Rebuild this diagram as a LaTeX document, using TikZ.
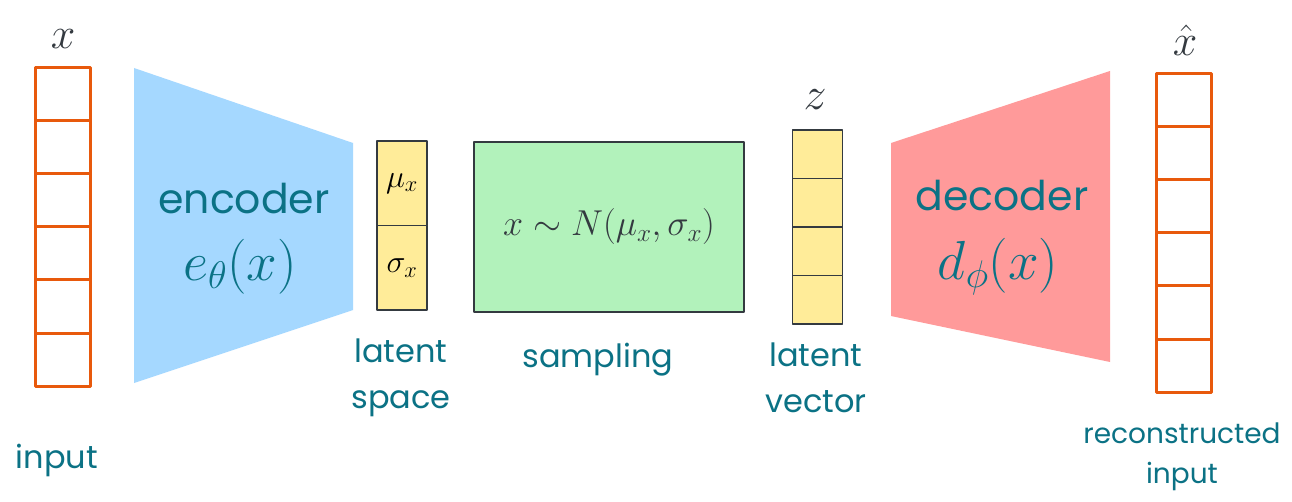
\documentclass[tikz,border=0pt]{standalone}
\usepackage{fix-cm}
\usepackage[no-math]{fontspec}
\setmainfont{Poppins}
\definecolor{vaeorange}{HTML}{E8590C}
\definecolor{vaeteal}{HTML}{0B7285}
\definecolor{vaeink}{HTML}{343A40}
\definecolor{vaeblue}{HTML}{A5D8FF}
\definecolor{vaered}{HTML}{FF9A9A}
\definecolor{vaegreen}{HTML}{B2F2BB}
\definecolor{vaeyellow}{HTML}{FFEC99}
\begin{document}
\begin{tikzpicture}[x=1pt, y=-1pt, line join=round,
    iocell/.style={draw=vaeorange, line width=3pt, minimum width=55pt, minimum height=53pt, inner sep=0pt},
    zcell/.style={draw=vaeink, fill=vaeyellow, line width=1.8pt, minimum width=50pt, inner sep=0pt},
    handlabel/.style={text=vaeteal, font=\fontsize{32}{46}\selectfont, align=center},
    biglabel/.style={text=vaeteal, font=\fontsize{41}{50}\selectfont},
    mathlabel/.style={text=vaeink, font=\fontsize{44}{50}\selectfont}]
    \useasboundingbox[fill=white] (0,0) rectangle (1292,502);

    % encoder and decoder blocks
    \fill[vaeblue] (134,68) -- (353,143) -- (353,310) -- (134,383) -- cycle;
    \fill[vaered] (891,143) -- (1110,71) -- (1110,362) -- (891,316) -- cycle;

    % input x
    \node [iocell] (in1) at (62.5,94.5) {};
    \node [iocell] (in2) at (62.5,147.5) {};
    \node [iocell] (in3) at (62.5,200.5) {};
    \node [iocell] (in4) at (62.5,253.5) {};
    \node [iocell] (in5) at (62.5,306.5) {};
    \node [iocell] (in6) at (62.5,359.5) {};
    \node [mathlabel] (xin) at (63,39) {$x$};
    \node [handlabel] (inlabel) at (57,460) {input};

    % encoder
    \node [biglabel] (enc) at (244,199) {encoder};
    \node [biglabel, font=\fontsize{55}{64}\selectfont] (encfn) at (240,267) {$e_\theta(x)$};

    % latent space
    \node [zcell, minimum height=84.5pt, font=\fontsize{32}{38}\selectfont] (mu) at (402,183.25) {$\mu_x$};
    \node [zcell, minimum height=84.5pt, font=\fontsize{32}{38}\selectfont] (sigma) at (402,267.75) {$\sigma_x$};
    \node [handlabel] (latspace) at (401,378) {latent\\space};

    % sampling
    \node [draw=vaeink, fill=vaegreen, line width=1.8pt, minimum width=270pt, minimum height=170pt,
           text=vaeink, font=\fontsize{36}{42}\selectfont] (samp) at (609,227) {$x \sim N(\mu_x, \sigma_x)$};
    \node [handlabel] (samplabel) at (598,360) {sampling};

    % latent vector z
    \node [zcell, minimum height=48.5pt] (z1) at (817.5,154.25) {};
    \node [zcell, minimum height=48.5pt] (z2) at (817.5,202.75) {};
    \node [zcell, minimum height=48.5pt] (z3) at (817.5,251.25) {};
    \node [zcell, minimum height=48.5pt] (z4) at (817.5,299.75) {};
    \node [mathlabel, font=\fontsize{46}{52}\selectfont] (zlab) at (815,100) {$z$};
    \node [handlabel] (latvec) at (816,378) {latent\\vector};

    % decoder
    \node [biglabel] (dec) at (1002,196) {decoder};
    \node [biglabel, font=\fontsize{55}{64}\selectfont] (decfn) at (998,267) {$d_\phi(x)$};

    % reconstructed input
    \node [iocell] (out1) at (1184,100.5) {};
    \node [iocell] (out2) at (1184,153.5) {};
    \node [iocell] (out3) at (1184,206.5) {};
    \node [iocell] (out4) at (1184,259.5) {};
    \node [iocell] (out5) at (1184,312.5) {};
    \node [iocell] (out6) at (1184,365.5) {};
    \node [mathlabel] (xhat) at (1185,40) {$\hat{x}$};
    \node [handlabel, font=\fontsize{28}{40}\selectfont] (outlabel) at (1182,457) {reconstructed\\input};
\end{tikzpicture}
\end{document}
